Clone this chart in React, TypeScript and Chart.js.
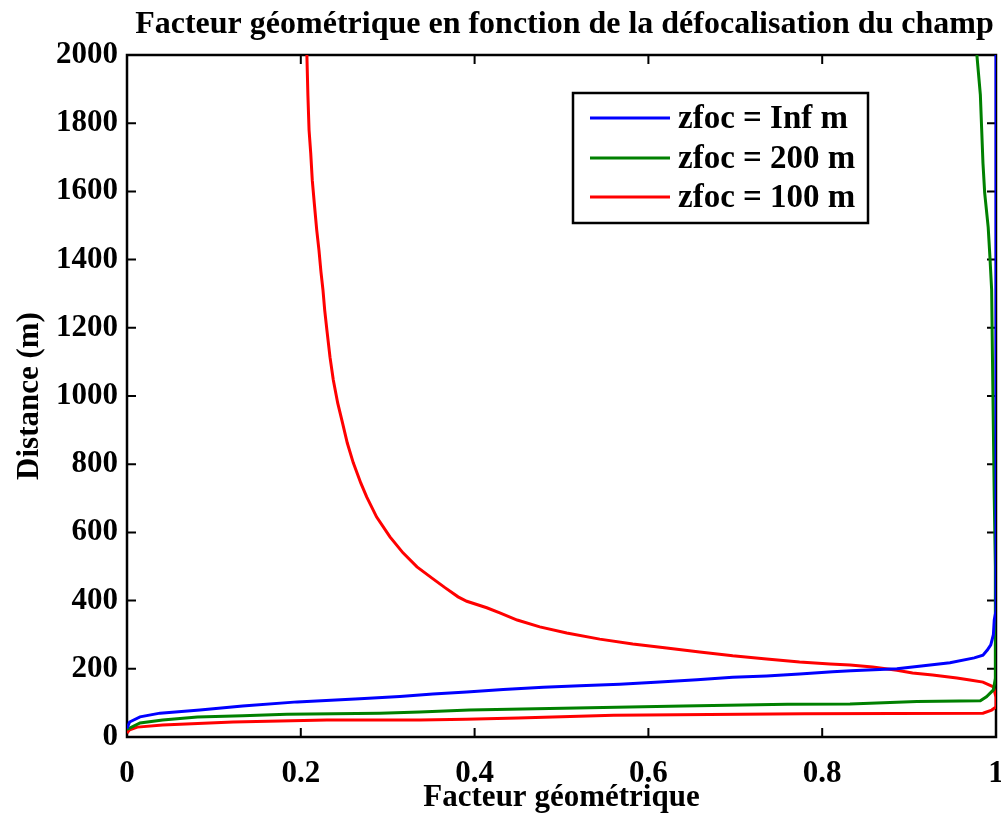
import React, { useEffect, useRef } from "react";
import { Chart, registerables } from "chart.js";

Chart.register(...registerables);

const FONT = '"Liberation Serif", "Times New Roman", serif';

const chartTitle = "Facteur géométrique en fonction de la défocalisation du champ";
const xAxisTitle = "Facteur géométrique";
const yAxisTitle = "Distance (m)";

const xTickValues = [0, 0.2, 0.4, 0.6, 0.8, 1];
const yTickValues = [0, 200, 400, 600, 800, 1000, 1200, 1400, 1600, 1800, 2000];

const seriesLabels = ["zfoc = Inf m", "zfoc = 200 m", "zfoc = 100 m"];
const seriesColors = ["#0000ff", "#008000", "#ff0000"];

// zfoc = Inf m
const blueX = [0, 0.003, 0.015, 0.038, 0.084, 0.133, 0.196, 0.268, 0.314, 0.352, 0.391, 0.433, 0.479, 0.521, 0.567, 0.613, 0.656, 0.697, 0.736, 0.774, 0.812, 0.833, 0.886, 0.909, 0.947, 0.975, 0.985, 0.99, 0.994, 0.997, 0.998, 1, 1];
const blueY = [25, 44, 59, 70, 79, 91, 103, 112, 119, 126, 132, 139, 146, 150, 155, 161, 168, 175, 179, 185, 191, 194, 200, 207, 218, 232, 240, 255, 270, 300, 343, 370, 2000];

// zfoc = 200 m
const greenX = [0, 0.015, 0.041, 0.081, 0.133, 0.184, 0.291, 0.337, 0.394, 0.517, 0.64, 0.76, 0.832, 0.909, 0.982, 0.989, 0.997, 0.9995, 0.9995, 0.999, 0.998, 0.997, 0.996, 0.995, 0.993, 0.991, 0.987, 0.985, 0.9835, 0.982, 0.978];
const greenY = [22, 41, 50, 59, 62, 67, 70, 73, 79, 85, 91, 96, 97, 104, 106, 118, 138, 176, 300, 500, 700, 900, 1100, 1311, 1408, 1495, 1595, 1683, 1783, 1883, 2000];

// zfoc = 100 m
const redX = [0, 0.003, 0.012, 0.041, 0.122, 0.23, 0.337, 0.39, 0.45, 0.56, 0.78, 0.985, 0.995, 1, 1, 0.997, 0.985, 0.97, 0.955, 0.927, 0.904, 0.886, 0.858, 0.832, 0.809, 0.774, 0.736, 0.697, 0.659, 0.621, 0.582, 0.544, 0.506, 0.475, 0.449, 0.429, 0.414, 0.391, 0.381, 0.3659, 0.351, 0.3337, 0.3176, 0.3026, 0.2873, 0.2758, 0.269, 0.2604, 0.2535, 0.248, 0.2425, 0.2374, 0.2336, 0.23, 0.2275, 0.2255, 0.2232, 0.2209, 0.2183, 0.2155, 0.2132, 0.2114, 0.2095, 0.2082, 0.207];
const redY = [12, 21, 29, 35, 44, 50, 50, 52, 56, 64, 68, 70, 79, 88, 117, 147, 161, 167, 173, 182, 188, 196, 205, 211, 214, 220, 229, 238, 249, 261, 273, 287, 305, 323, 343, 364, 379, 398, 411, 438, 466, 499, 540, 587, 645, 704, 745, 804, 862, 921, 979, 1047, 1114, 1194, 1252, 1311, 1364, 1428, 1487, 1566, 1633, 1713, 1780, 1880, 2000];

const zip = (xs: number[], ys: number[]) => xs.map((x, i) => ({ x, y: ys[i] }));

const framePlugin = {
  id: "matlabFrame",
  beforeDatasetsDraw(chart: any) {
    const { ctx, chartArea, scales } = chart;
    const { left, right, top, bottom } = chartArea;
    const tl = 9;
    ctx.save();
    ctx.strokeStyle = "#000";
    ctx.lineWidth = 2.5;
    ctx.strokeRect(left, top, right - left, bottom - top);
    ctx.lineWidth = 2;
    ctx.beginPath();
    xTickValues.forEach((v) => {
      const px = scales.x.getPixelForValue(v);
      ctx.moveTo(px, bottom);
      ctx.lineTo(px, bottom - tl);
      ctx.moveTo(px, top);
      ctx.lineTo(px, top + tl);
    });
    yTickValues.forEach((v) => {
      const py = scales.y.getPixelForValue(v);
      ctx.moveTo(left, py);
      ctx.lineTo(left + tl, py);
      ctx.moveTo(right, py);
      ctx.lineTo(right - tl, py);
    });
    ctx.stroke();
    ctx.restore();
  },
};

const legendPlugin = {
  id: "matlabLegend",
  afterDatasetsDraw(chart: any) {
    const { ctx } = chart;
    const bx = 573, by = 93, bw = 295, bh = 130;
    const rows = [118, 158, 197];
    ctx.save();
    ctx.fillStyle = "#fff";
    ctx.fillRect(bx, by, bw, bh);
    ctx.strokeStyle = "#000";
    ctx.lineWidth = 2.5;
    ctx.strokeRect(bx, by, bw, bh);
    ctx.font = `bold 33px ${FONT}`;
    ctx.textAlign = "left";
    ctx.textBaseline = "middle";
    chart.data.datasets.forEach((ds: any, i: number) => {
      ctx.strokeStyle = ds.borderColor;
      ctx.lineWidth = 3;
      ctx.beginPath();
      ctx.moveTo(590, rows[i]);
      ctx.lineTo(670, rows[i]);
      ctx.stroke();
      ctx.fillStyle = "#000";
      ctx.fillText(ds.label, 678, rows[i] + 1);
    });
    ctx.restore();
  },
};

const titlePlugin = {
  id: "matlabTitle",
  afterDraw(chart: any) {
    const { ctx, chartArea } = chart;
    ctx.save();
    ctx.font = `bold 32px ${FONT}`;
    ctx.fillStyle = "#000";
    ctx.textAlign = "center";
    ctx.textBaseline = "middle";
    ctx.fillText(chartTitle, (chartArea.left + chartArea.right) / 2 + 3, 25);
    ctx.restore();
  },
};

export default function App() {
  const ref = useRef<HTMLCanvasElement | null>(null);
  useEffect(() => {
    if (!ref.current) return;
    const tickFont = { family: FONT, size: 31, weight: "bold" as const };
    const chart = new Chart(ref.current, {
      type: "scatter",
      data: {
        datasets: [
          { label: seriesLabels[0], data: zip(blueX, blueY), borderColor: seriesColors[0], backgroundColor: seriesColors[0] },
          { label: seriesLabels[1], data: zip(greenX, greenY), borderColor: seriesColors[1], backgroundColor: seriesColors[1] },
          { label: seriesLabels[2], data: zip(redX, redY), borderColor: seriesColors[2], backgroundColor: seriesColors[2] },
        ].map((d) => ({ ...d, showLine: true, borderWidth: 3, pointRadius: 0, tension: 0 })),
      },
      options: {
        animation: false,
        responsive: false,
        devicePixelRatio: 1,
        layout: { padding: { top: 55, right: 5, left: 0, bottom: 0 } },
        plugins: {
          legend: { display: false },
          title: { display: false },
          tooltip: { enabled: false },
        },
        scales: {
          x: {
            type: "linear",
            min: 0,
            max: 1,
            grid: { display: false, drawTicks: false },
            border: { display: false },
            afterBuildTicks: (s: any) => {
              s.ticks = xTickValues.map((v) => ({ value: v }));
            },
            afterFit: (s: any) => {
              s.height = 76;
              s.paddingLeft = 0;
              s.paddingRight = 0;
            },
            ticks: {
              font: tickFont,
              color: "#000",
              padding: 18,
              maxRotation: 0,
              autoSkip: false,
              callback: (v: any) => String(v),
            },
            title: {
              display: true,
              text: xAxisTitle,
              color: "#000",
              font: { ...tickFont, lineHeight: 1 },
              padding: { top: 0, bottom: 0 },
            },
          },
          y: {
            type: "linear",
            min: 0,
            max: 2000,
            grid: { display: false, drawTicks: false },
            border: { display: false },
            afterBuildTicks: (s: any) => {
              s.ticks = yTickValues.map((v) => ({ value: v }));
            },
            afterFit: (s: any) => {
              s.width = 127;
              s.paddingTop = 0;
              s.paddingBottom = 0;
            },
            ticks: {
              font: tickFont,
              color: "#000",
              padding: 9,
              autoSkip: false,
              callback: (v: any) => String(v),
            },
            title: {
              display: true,
              text: yAxisTitle,
              color: "#000",
              font: { ...tickFont, lineHeight: 1 },
              padding: { top: 14, bottom: 14 },
            },
          },
        },
      } as any,
      plugins: [framePlugin, legendPlugin, titlePlugin],
    });
    return () => chart.destroy();
  }, []);
  return (
    <div style={{ position: "fixed", left: 0, top: 0, width: 1001, height: 813, background: "#fff" }}>
      <canvas ref={ref} width={1001} height={813} style={{ display: "block" }} />
    </div>
  );
}
